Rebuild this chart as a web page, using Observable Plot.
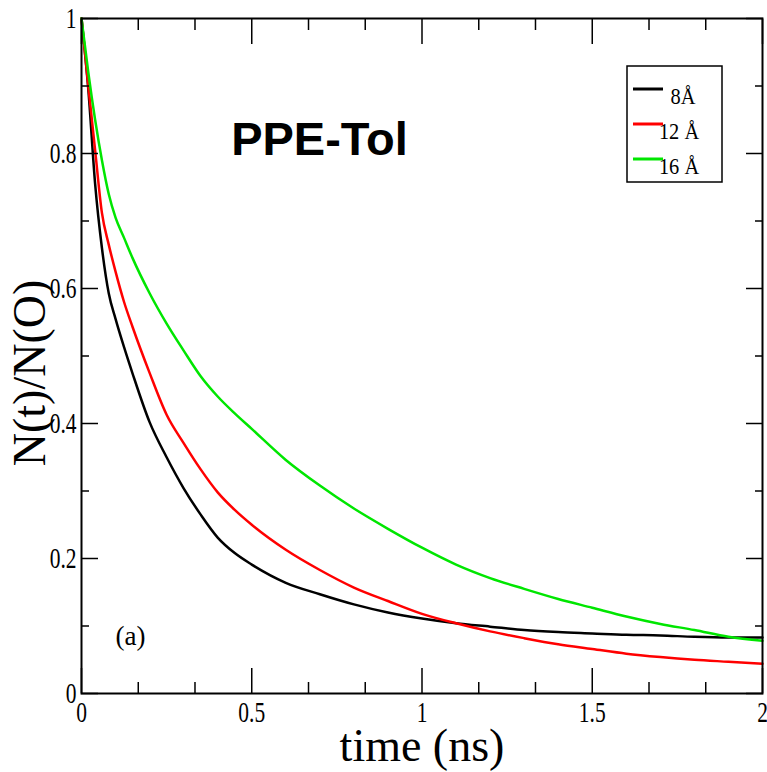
<!DOCTYPE html>
<html><head><meta charset="utf-8">
<script src="https://cdn.jsdelivr.net/npm/d3@7"></script>
<script src="https://cdn.jsdelivr.net/npm/@observablehq/plot@0.6"></script>
<style>body{margin:0;background:#fff}svg{display:block}</style>
</head><body><div id="chart"></div>
<script>
// ---- data ----
const time = [0, 0.02, 0.04, 0.06, 0.08, 0.1, 0.125, 0.15, 0.2, 0.25, 0.3, 0.35, 0.4, 0.45, 0.5, 0.6, 0.7, 0.8, 0.9, 1.0, 1.1, 1.2, 1.3, 1.4, 1.5, 1.6, 1.7, 1.8, 1.9, 2.0];
const n8  = [1, 0.895, 0.755, 0.66, 0.593, 0.555, 0.513, 0.474, 0.402, 0.35, 0.304, 0.265, 0.231, 0.208, 0.191, 0.164, 0.147, 0.132, 0.120, 0.111, 0.104, 0.099, 0.094, 0.091, 0.089, 0.087, 0.086, 0.084, 0.083, 0.083];
const n12 = [1, 0.90, 0.805, 0.712, 0.665, 0.625, 0.58, 0.543, 0.475, 0.413, 0.371, 0.332, 0.298, 0.272, 0.250, 0.213, 0.183, 0.157, 0.137, 0.118, 0.104, 0.092, 0.082, 0.073, 0.066, 0.059, 0.054, 0.050, 0.047, 0.044];
const n16 = [1, 0.92, 0.85, 0.79, 0.74, 0.705, 0.675, 0.645, 0.593, 0.548, 0.508, 0.47, 0.44, 0.415, 0.392, 0.346, 0.308, 0.274, 0.244, 0.216, 0.191, 0.171, 0.155, 0.140, 0.127, 0.114, 0.103, 0.094, 0.084, 0.078];
const seriesNames = ["8Å", "12 Å", "16 Å"];
const seriesColors = ["#000000", "#ff0000", "#00e600"];
const xMajorTicks = [0, 0.5, 1, 1.5, 2];
const xMinorTicks = [0.1667, 0.3333, 0.6667, 0.8333, 1.1667, 1.3333, 1.6667, 1.8333];
const yMajorTicks = [0, 0.2, 0.4, 0.6, 0.8, 1];
const yMinorTicks = [0.1, 0.3, 0.5, 0.7, 0.9];
const titleText = "PPE-Tol";
const xLabel = "time (ns)";
const yLabel = "N(t)/N(O)";
const panelLabel = "(a)";

const rows = [];
[n8, n12, n16].forEach((vals, s) => vals.forEach((v, i) => rows.push({t: time[i], v, series: seriesNames[s]})));

const serif = "'Liberation Serif','Times New Roman',serif";
const sans = "'Liberation Sans',Arial,sans-serif";
const fmt = d3.format("~g");

const chart = Plot.plot({
  width: 767, height: 772,
  marginLeft: 81, marginRight: 5, marginTop: 18, marginBottom: 79,
  x: {domain: [0, 2], label: null},
  y: {domain: [0, 1], label: null},
  color: {domain: seriesNames, range: seriesColors},
  style: {background: "white", fontFamily: serif, color: "black"},
  marks: [
    Plot.line(rows, {x: "t", y: "v", stroke: "series", strokeWidth: 2.5, curve: "monotone-x"}),
    Plot.frame({stroke: "black", strokeWidth: 2}),
    // inward ticks, all four sides
    Plot.axisX(xMajorTicks, {anchor: "bottom", tickSize: -25, fill: "none", label: null, strokeWidth: 1.5}),
    Plot.axisX(xMinorTicks, {anchor: "bottom", tickSize: -11, fill: "none", label: null, strokeWidth: 1.5}),
    Plot.axisX(xMajorTicks, {anchor: "top", tickSize: -25, fill: "none", label: null, strokeWidth: 1.5}),
    Plot.axisX(xMinorTicks, {anchor: "top", tickSize: -11, fill: "none", label: null, strokeWidth: 1.5}),
    Plot.axisY(yMajorTicks, {anchor: "left", tickSize: -17, fill: "none", label: null, strokeWidth: 1.5}),
    Plot.axisY(yMinorTicks, {anchor: "left", tickSize: -8, fill: "none", label: null, strokeWidth: 1.5}),
    Plot.axisY(yMajorTicks, {anchor: "right", tickSize: -17, fill: "none", label: null, strokeWidth: 1.5}),
    Plot.axisY(yMinorTicks, {anchor: "right", tickSize: -8, fill: "none", label: null, strokeWidth: 1.5}),
    // tick labels
    Plot.axisX(xMajorTicks, {anchor: "bottom", tickSize: 0, tickPadding: 8, tickFormat: fmt, label: null, fontSize: 29, fontFamily: serif, fill: "black"}),
    Plot.axisY(yMajorTicks, {anchor: "left", tickSize: 0, tickPadding: 5, tickFormat: fmt, label: null, fontSize: 29, fontFamily: serif, fill: "black"}),
    // texts
    Plot.text([titleText], {text: d => d, frameAnchor: "top-left", dx: 238, dy: 121, textAnchor: "middle", lineAnchor: "middle", fontSize: 47, fontWeight: "bold", fontFamily: sans, fill: "black"}),
    Plot.text([panelLabel], {text: d => d, frameAnchor: "bottom-left", dx: 49, dy: -57, textAnchor: "middle", lineAnchor: "middle", fontSize: 27, fontFamily: serif, fill: "black"}),
    Plot.text([xLabel], {text: d => d, frameAnchor: "bottom", dy: 53, textAnchor: "middle", lineAnchor: "middle", fontSize: 46, fontFamily: serif, fill: "black"}),
    Plot.text([yLabel], {text: d => d, frameAnchor: "left", dx: -51, dy: 17, rotate: -90, textAnchor: "middle", lineAnchor: "middle", fontSize: 46, fontFamily: serif, fill: "black"})
  ]
});
document.getElementById("chart").append(chart);

const svg = d3.select(chart.tagName.toLowerCase() === "svg" ? chart : chart.querySelector("svg"));
// condensed look of the tick labels and panel tag
svg.selectAll('g[aria-label="x-axis tick label"] text, g[aria-label="y-axis tick label"] text').each(function() {
  const w = this.getComputedTextLength();
  this.setAttribute("textLength", w * 0.74);
  this.setAttribute("lengthAdjust", "spacingAndGlyphs");
});

// legend box
const lg = svg.append("g").attr("font-family", serif);
lg.append("rect").attr("x", 627).attr("y", 66).attr("width", 95).attr("height", 116)
  .attr("fill", "white").attr("stroke", "black").attr("stroke-width", 1.5);
seriesNames.forEach((name, i) => {
  const y = 89 + i * 35;
  lg.append("line").attr("x1", 633).attr("x2", 663).attr("y1", y).attr("y2", y)
    .attr("stroke", seriesColors[i]).attr("stroke-width", 3);
  const t = lg.append("text").attr("x", i === 0 ? 683 : 679).attr("y", y + 15)
    .attr("font-size", 24).attr("fill", "black").text(name);
  const node = t.node();
  node.setAttribute("textLength", node.getComputedTextLength() * 0.85);
  node.setAttribute("lengthAdjust", "spacingAndGlyphs");
});
</script>
</body></html>
